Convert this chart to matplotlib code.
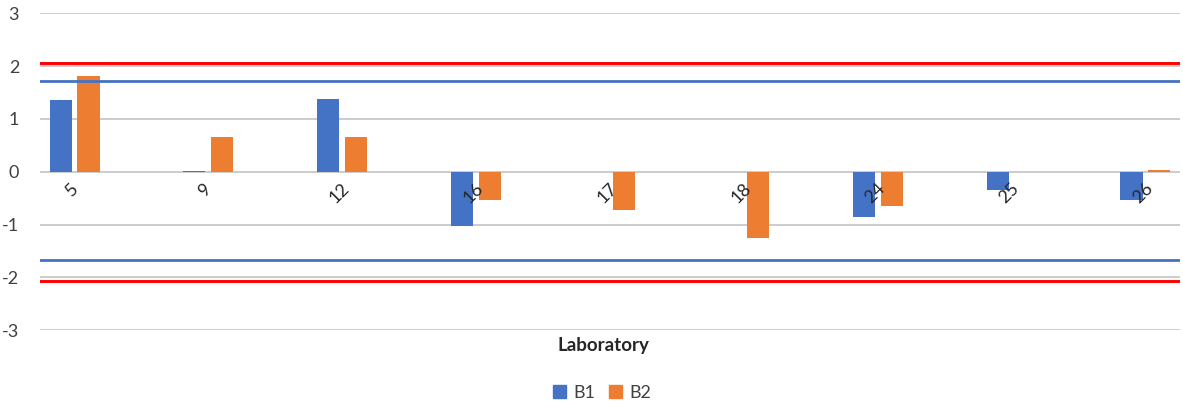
import numpy as np
import matplotlib
matplotlib.use("Agg")
import matplotlib.pyplot as plt
from matplotlib.patches import Patch

plt.rcParams['font.family'] = ['Lato', 'DejaVu Sans']

# Laboratory z-scores
laboratories = ["5", "9", "12", "16", "17", "18", "24", "25", "26"]
b1 = [1.35, 0.02, 1.38, -1.03, np.nan, np.nan, -0.86, -0.35, -0.53]
b2 = [1.81, 0.66, 0.65, -0.54, -0.72, -1.26, -0.65, np.nan, 0.04]

# Reference limits
red_limits = [2.06, -2.06]
blue_limits = [1.72, -1.66]

y_ticks = [-3, -2, -1, 0, 1, 2, 3]

BLUE = "#4472C4"
ORANGE = "#ED7D31"
RED = "#FF0000"
GRID = "#BFBFBF"

fig = plt.figure(figsize=(11.83, 4.04), dpi=100)
ax = fig.add_axes([40 / 1183, (404 - 330.3) / 404, 1140 / 1183, (330.3 - 13.3) / 404])

x = np.arange(len(laboratories))
w = 0.165
off = 0.1045
ax.bar(x - off, b1, width=w, color=BLUE, zorder=3)
ax.bar(x + off, b2, width=w, color=ORANGE, zorder=3)

for v in red_limits:
    ax.axhline(v, color=RED, lw=2.1, zorder=4)
for v in blue_limits:
    ax.axhline(v, color=BLUE, lw=2.0, zorder=4)

ax.set_ylim(-3, 3)
ax.set_xlim(-0.258, len(laboratories) - 1 + 0.258)
ax.set_yticks(y_ticks)
ax.set_yticklabels([str(t) for t in y_ticks], fontsize=13, color="#404040")
ax.tick_params(axis="y", length=0, pad=15)
ax.tick_params(axis="x", length=0, labelbottom=False)
ax.set_xticks([])
ax.yaxis.grid(True, color=GRID, lw=1.1, zorder=0)
for s in ax.spines.values():
    s.set_visible(False)

# Category labels sit just below the zero line, drawn over the bars
for xi, lab in zip(x, laboratories):
    ax.annotate(lab, xy=(xi, 0), xytext=(-2, -6), textcoords="offset points",
                rotation=45, ha="center", va="top", fontsize=13, color="#262626",
                annotation_clip=False, zorder=6)

fig.text(603 / 1183, 1 - 346 / 404, "Laboratory", ha="center", va="center",
         fontsize=13.5, fontweight="bold", color="#262626")

handles = [Patch(color=BLUE, label="B1"), Patch(color=ORANGE, label="B2")]
fig.legend(handles=handles, loc="center", bbox_to_anchor=(602 / 1183, 1 - 393 / 404),
           ncol=2, frameon=False, fontsize=13, handlelength=0.7, handleheight=0.7,
           handletextpad=0.4, columnspacing=0.8, labelcolor="#404040")

fig.savefig("out.png", dpi=100)
